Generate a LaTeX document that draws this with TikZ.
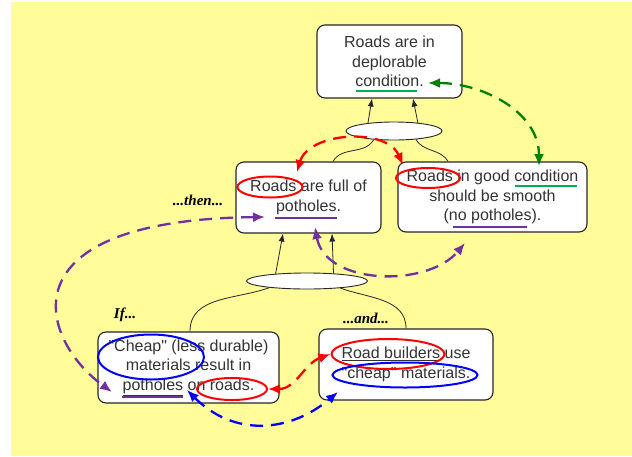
\documentclass[tikz,border=0pt]{standalone}
\usepackage{fontspec}
\setmainfont{Liberation Sans}[Ligatures=TeXOff]
\newfontfamily\cuefont{Liberation Serif}
\usetikzlibrary{arrows.meta,shapes.geometric}
\definecolor{paper}{RGB}{255,252,153}
\definecolor{argpurple}{RGB}{112,48,160}
\definecolor{arggreen}{RGB}{0,128,0}
\definecolor{linegreen}{RGB}{0,176,80}

\begin{document}
\begin{tikzpicture}[x=1pt, y=-1pt,
    claim/.style={draw=black!85, line width=1.1pt, rounded corners=8pt, fill=white, align=center,
      inner sep=2pt, text=black!80, font=\fontsize{16}{19.5}\selectfont},
    joint/.style={ellipse, draw=black!85, line width=0.9pt, fill=white, inner sep=0pt},
    cue/.style={font=\cuefont\bfseries\itshape\fontsize{15}{18}\selectfont},
    ring/.style={ellipse, draw, line width=2pt, inner sep=0pt},
    underl/.style={line width=1.8pt},
    link/.style={line width=0.8pt, draw=black!85, -{Latex[length=8pt,width=6pt]}},
    web/.style={line width=0.8pt, draw=black!85},
    hop/.style={line width=2.3pt, dash pattern=on 13pt off 8pt,
      {Latex[length=12pt,width=10pt]}-{Latex[length=12pt,width=10pt]}}]
    \useasboundingbox (0,0) rectangle (632,456);
    \fill[paper] (11,2) rectangle (632,456);

    \node[claim, minimum width=145pt, minimum height=73pt] (deplorable) at (389.5,61.5) {Roads are in\\deplorable\\condition.};
    \node[claim, minimum width=145pt, minimum height=71pt] (potholes) at (308.5,197.5) {Roads are full of\\potholes.};
    \node[claim, minimum width=189pt, minimum height=70pt] (smooth) at (492.5,197) {Roads in good condition\\should be smooth\\(no potholes).};
    \node[claim, minimum width=181pt, minimum height=71pt] (cheapmat) at (188.5,367.5) {"Cheap" (less durable)\\materials result in\\\underline{potholes} on roads.};
    \node[claim, minimum width=174pt, minimum height=71pt] (builders) at (406,364.5) {\underline{Road builders} use\\"cheap" materials.};

    \node[joint, minimum width=96pt, minimum height=18pt] (andtop) at (394,131) {};
    \node[joint, minimum width=121pt, minimum height=16pt] (andlow) at (307,281) {};

    \node[cue] (thencue) at (198,200) {...then...};
    \node[cue] (ifcue) at (125,315) {If...};
    \node[cue] (andcue) at (366,318) {...and...};

    \draw[link] (andtop.163) -- ([xshift=-17.5pt]deplorable.south);
    \draw[link] (andtop.19) -- ([xshift=23.5pt]deplorable.south);
    \draw[web] (andtop.203) to[out=-120,in=60] ([xshift=24.5pt]potholes.north);
    \draw[web] (andtop.-21) to[out=-60,in=120] ([xshift=-44.5pt]smooth.north);
    \draw[link] (andlow.167) -- ([xshift=-25.5pt]potholes.south);
    \draw[link] (andlow.16) -- ([xshift=23.5pt]potholes.south);
    \draw[web] (andlow.190) to[out=-160,in=90] ([xshift=1.5pt]cheapmat.north);
    \draw[web] (andlow.-12) to[out=-20,in=90] (builders.north);

    \draw[underl, linegreen] (356,91) -- (417,91);
    \draw[underl, linegreen] (515,186) -- (577,186);
    \draw[underl, argpurple] (275,218) -- (337,218);
    \draw[underl, argpurple] (453,227) -- (527,227);
    \draw[underl, argpurple] (122,397) -- (183,397);

    \node[ring, red, minimum width=65pt, minimum height=21pt] (rLeft) at (270,187) {};
    \node[ring, red, minimum width=64pt, minimum height=20pt] (rRight) at (428,178) {};
    \node[ring, blue, minimum width=106pt, minimum height=45pt] (bCheap) at (151,357) {};
    \node[ring, red, minimum width=70pt, minimum height=22pt] (rRoads) at (232,389) {};
    \node[ring, red, minimum width=113pt, minimum height=30pt] (rBuilders) at (388,354) {};
    \node[ring, blue, minimum width=145pt, minimum height=25pt] (bMaterials) at (405,375) {};

    \coordinate (roadsL) at (297,172);
    \coordinate (roadsR) at (403,165);
    \coordinate (condTop) at (428,83);
    \coordinate (condRight) at (539,166);
    \coordinate (potTip) at (265,217);
    \coordinate (cheapTip) at (112,392);
    \coordinate (potUp) at (315,227);
    \coordinate (noPot) at (465,243);
    \coordinate (cheapUp) at (187,390);
    \coordinate (matUp) at (338,392);

    \draw[hop, red] (roadsL) to[bend left=70] (roadsR);
    \draw[hop, arggreen] (condTop) to[out=0,in=90] (condRight);
    \draw[hop, argpurple] (potTip) .. controls (0,220) and (40,340) .. (cheapTip);
    \draw[hop, argpurple] (potUp) to[out=-80,in=-130] (noPot);
    \draw[hop, red] (rRoads.east) to[out=0,in=200] (rBuilders.west);
    \draw[hop, blue] (cheapUp) to[out=-45,in=-140,looseness=1.1] (matUp);
  \end{tikzpicture}
\end{document}
